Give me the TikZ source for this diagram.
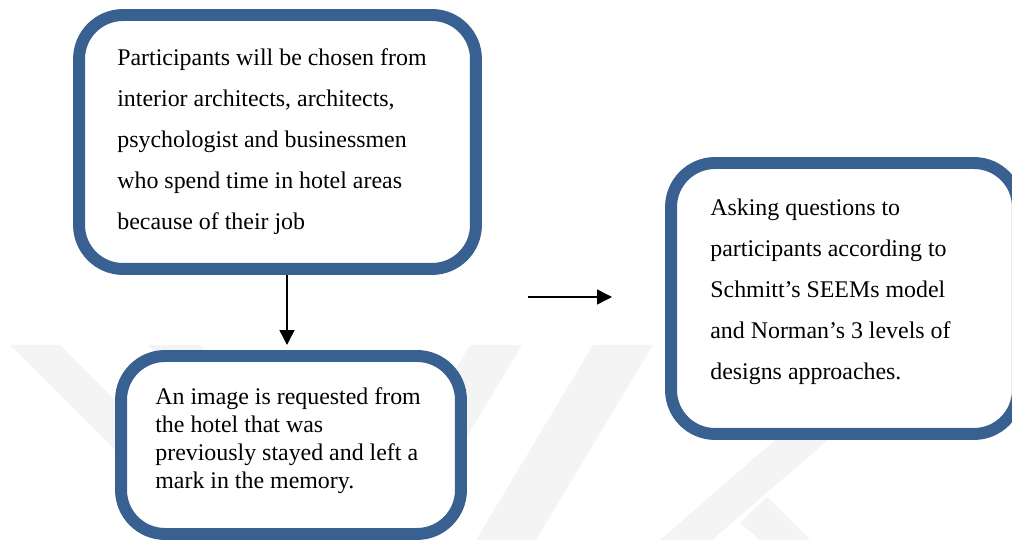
\documentclass[tikz,border=0pt]{standalone}
\usepackage{fontspec}
\setmainfont{Liberation Serif}
\usetikzlibrary{arrows.meta}
\definecolor{boxblue}{RGB}{56,96,145}
\definecolor{markgray}{RGB}{244,244,244}
\begin{document}
\begin{tikzpicture}[x=0.02cm,y=-0.02cm,
	card/.style={draw=boxblue,line width=6.8pt,fill=white,rounded corners=0.88cm},
	wide/.style={font=\fontsize{13.6pt}{23.25pt}\selectfont,align=left,inner sep=0pt,anchor=north west},
	tight/.style={font=\fontsize{13.6pt}{16.05pt}\selectfont,align=left,inner sep=0pt,anchor=north west},
	flow/.style={line width=0.85pt,-{Triangle[length=8.5pt,width=8.5pt]}}]
	
	\useasboundingbox (0,0) rectangle (1012,540);
	
	% faint background mark
	\fill[markgray](10,345)--(60,345)--(255,540)--(205,540)--cycle;
	\fill[markgray](148,345)--(200,345)--(395,540)--(343,540)--cycle;
	\fill[markgray](470,345)--(522,345)--(405,540)--(353,540)--cycle;
	\fill[markgray](593,345)--(653,345)--(536,540)--(476,540)--cycle;
	\fill[markgray](775,440)--(828,440)--(712,540)--(660,540)--cycle;
	\fill[markgray](767,497)--(810,540)--(760,540)--(740,523)--cycle;
	
	% boxes
	\node[card,minimum width=7.94cm,minimum height=5.08cm] (select) at (277.5,142) {};
	\node[card,minimum width=6.8cm,minimum height=3.56cm] (image) at (291,445) {};
	\node[card,minimum width=6.94cm,minimum height=5.42cm] (ask) at (844.5,298.5) {};
	
	\node[wide] (selecttext) at (117,48.5) {Participants will be chosen from\\
		interior architects, architects,\\
		psychologist and businessmen\\
		who spend time in hotel areas\\
		because of their job};
	\node[tight] (imagetext) at (155,387) {An image is requested from\\
		the hotel that was\\
		previously stayed and left a\\
		mark in the memory.};
	\node[wide] (asktext) at (710,199) {Asking questions to\\
		participants according to\\
		Schmitt’s SEEMs model\\
		and Norman’s 3 levels of\\
		designs approaches.};
	
	% arrows
	\coordinate (down) at (287,345);
	\draw[flow](down |- select.south)--(down);
	\coordinate (from) at (528,297);
	\coordinate (to) at (612,297);
	\draw[flow](from)--(to);
\end{tikzpicture}
\end{document}
